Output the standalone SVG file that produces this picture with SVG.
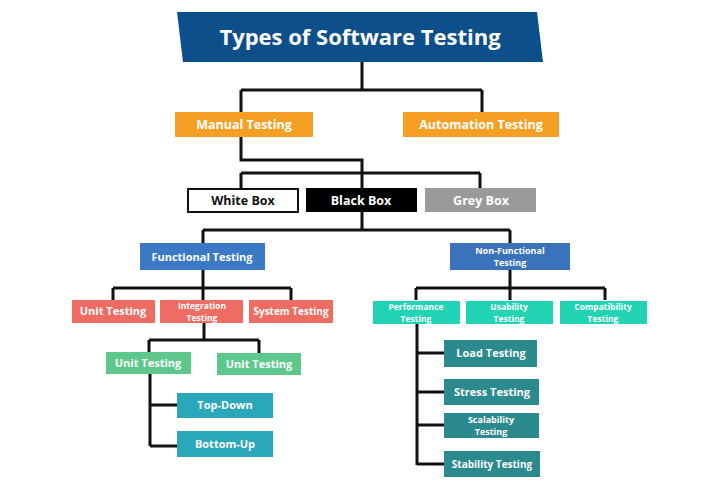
<svg xmlns="http://www.w3.org/2000/svg" width="720" height="488" viewBox="0 0 720 488">
<style>
text{font-family:"Open Sans","Liberation Sans",sans-serif;font-weight:bold;fill:#fff;text-anchor:middle}
.c{fill:none;stroke:#111;stroke-width:3}
.t1{font-size:12.5px}
.t2{font-size:11px}
.t3{font-size:10px}
.m{font-size:9px}
.s{font-size:8.5px}
</style>
<rect width="720" height="488" fill="#fff"/>
<g id="connectors">
<path class="c" d="M362 62V90M241 90H482M241 90V112M482 90V112"/>
<path class="c" d="M241 137V160H362V188M241 173H480M241 173V188M480 173V188"/>
<path class="c" d="M362 212V230M203 230H510M203 230V243M510 230V243"/>
<path class="c" d="M203 270V300M113 288H291M113 288V300M291 288V300"/>
<path class="c" d="M510 270V300M416 288H605M416 288V300M605 288V300"/>
<path class="c" d="M204 323V340M149 340H259M149 340V352M259 340V353"/>
<path class="c" d="M150 374V446M150 405H177M150 446H177"/>
<path class="c" d="M417 324V465M417 353H445M417 392H445M417 425H445M417 464H445"/>
</g>
<g id="title"><polygon points="177,12 537,12 543,62 183,62" fill="#0d4f8b"/><text x="360" y="45" style="font-size:22px">Types of Software Testing</text></g>
<g id="manual"><rect x="175" y="112" width="138" height="25" fill="#f5a024"/><text class="t1" x="244" y="129">Manual Testing</text></g>
<g id="automation"><rect x="403" y="112" width="156" height="25" fill="#f5a024"/><text class="t1" x="481" y="129">Automation Testing</text></g>
<g id="whitebox"><rect x="188" y="189" width="110" height="23" fill="#fff" stroke="#111" stroke-width="2"/><text class="t1" x="243" y="205" style="fill:#111">White Box</text></g>
<g id="blackbox"><rect x="306" y="188" width="111" height="24" fill="#000"/><text class="t1" x="361" y="205">Black Box</text></g>
<g id="greybox"><rect x="425" y="188" width="111" height="24" fill="#9a9a9a"/><text class="t1" x="481" y="205">Grey Box</text></g>
<g id="functional"><rect x="140" y="243" width="125" height="27" fill="#3b79c6"/><text class="t2" x="202" y="261">Functional Testing</text></g>
<g id="nonfunctional"><rect x="450" y="243" width="120" height="27" fill="#3a72bc"/><text class="m" x="510" y="253.5">Non-Functional</text><text class="m" x="510" y="266">Testing</text></g>
<g id="unit"><rect x="72" y="300" width="83" height="23" fill="#ef6c63"/><text class="t2" x="113" y="315">Unit Testing</text></g>
<g id="integration"><rect x="160" y="300" width="83" height="23" fill="#ef6c63"/><text class="s" x="202" y="308.5">Integration</text><text class="s" x="202" y="320.5">Testing</text></g>
<g id="system"><rect x="249" y="300" width="84" height="23" fill="#ef6c63"/><text class="t3" x="291" y="315">System Testing</text></g>
<g id="performance"><rect x="373" y="301" width="87" height="23" fill="#22d4b3"/><text class="s" x="416" y="309.5">Performance</text><text class="s" x="416" y="321.5">Testing</text></g>
<g id="usability"><rect x="466" y="301" width="87" height="23" fill="#22d4b3"/><text class="s" x="509" y="309.5">Usability</text><text class="s" x="509" y="321.5">Testing</text></g>
<g id="compatibility"><rect x="560" y="301" width="87" height="23" fill="#22d4b3"/><text class="s" x="603" y="309.5">Compatibility</text><text class="s" x="603" y="321.5">Testing</text></g>
<g id="unit2"><rect x="106" y="352" width="85" height="22" fill="#5ec78c"/><text class="t2" x="148" y="367">Unit Testing</text></g>
<g id="unit3"><rect x="217" y="353" width="84" height="22" fill="#5ec78c"/><text class="t2" x="259" y="368">Unit Testing</text></g>
<g id="topdown"><rect x="177" y="393" width="96" height="25" fill="#2aa7b8"/><text class="t2" x="225" y="409">Top-Down</text></g>
<g id="bottomup"><rect x="177" y="431" width="96" height="26" fill="#2aa7b8"/><text class="t2" x="225" y="448">Bottom-Up</text></g>
<g id="load"><rect x="444" y="340" width="93" height="27" fill="#2b8a8d"/><text class="t2" x="491" y="357">Load Testing</text></g>
<g id="stress"><rect x="444" y="379" width="95" height="26" fill="#2b8a8d"/><text class="t2" x="492" y="396">Stress Testing</text></g>
<g id="scalability"><rect x="444" y="413" width="95" height="25" fill="#2b8a8d"/><text class="m" x="491" y="422.5">Scalability</text><text class="m" x="491" y="435">Testing</text></g>
<g id="stability"><rect x="444" y="451" width="96" height="26" fill="#2b8a8d"/><text class="t3" x="492" y="468">Stability Testing</text></g>
</svg>
